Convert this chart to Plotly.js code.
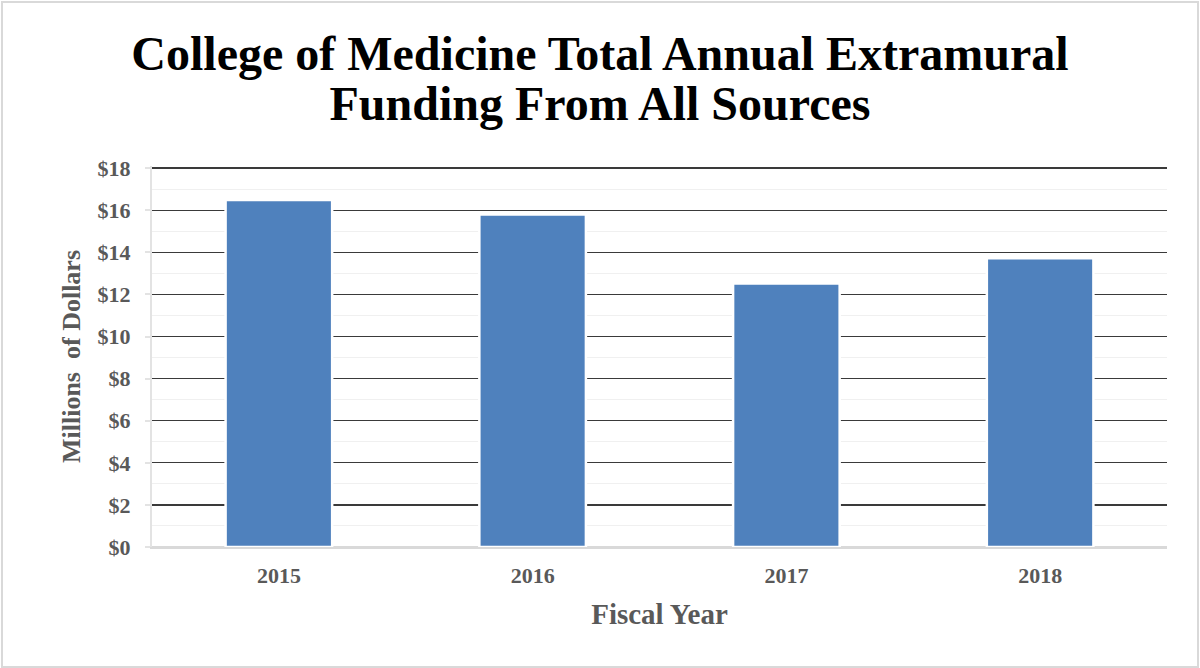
<!DOCTYPE html>
<html>
<head>
<meta charset="utf-8">
<script src="https://cdn.plot.ly/plotly-3.0.1.min.js"></script>
<style>
  html, body { margin: 0; padding: 0; background: #ffffff; }
  #chart { width: 1200px; height: 668px; position: absolute; left: 0; top: 0; }
  #frame { position: absolute; left: 1px; top: 1px; width: 1194px; height: 663px;
           border: 2px solid #d9d9d9; pointer-events: none; }
</style>
</head>
<body>
<div id="chart"></div>
<div id="frame"></div>
<script>
// Data
const fiscalYears = ["2015", "2016", "2017", "2018"];
const fundingMillions = [16.48, 15.8, 12.52, 13.72];
const yTickValues = [0, 2, 4, 6, 8, 10, 12, 14, 16, 18];
const yTickLabels = ["$0", "$2", "$4", "$6", "$8", "$10", "$12", "$14", "$16", "$18"];

const titleLines = ["College of Medicine Total Annual Extramural", "Funding From All Sources"];
const xTitle = "Fiscal Year";
const yTitle = "Millions\u00a0 of Dollars";

const serif = "Liberation Serif";
const grayText = "#595959";

const chartTitle = titleLines.map(t => '<span style="font-size:48px">' + t + '</span>').join("<br>");

const trace = {
  type: "bar",
  x: fiscalYears,
  y: fundingMillions,
  marker: { color: "#4f81bd", line: { color: "#ffffff", width: 2.5 } },
  hoverinfo: "x+y"
};

const layout = {
  width: 1200,
  height: 668,
  paper_bgcolor: "#ffffff",
  plot_bgcolor: "#ffffff",
  margin: { l: 152, r: 33, t: 166, b: 121 },
  bargap: 0.58,
  showlegend: false,
  title: {
    text: chartTitle,
    font: { family: serif, size: 38, color: "#000000", weight: "bold" },
    x: 0.5, xref: "container", xanchor: "center",
    y: 0.895, yref: "container", yanchor: "middle"
  },
  xaxis: {
    type: "category",
    showgrid: false,
    showline: true,
    linecolor: "#d9d9d9",
    linewidth: 1.5,
    ticks: "",
    ticklabelstandoff: 8,
    tickfont: { family: serif, size: 22, color: grayText, weight: "bold" },
    title: { text: xTitle, standoff: 17,
             font: { family: serif, size: 29, color: grayText, weight: "bold" } }
  },
  yaxis: {
    range: [0, 18.1],
    tickmode: "array",
    tickvals: yTickValues,
    ticktext: yTickLabels,
    showgrid: true,
    gridcolor: "#3a3a3a",
    gridwidth: 1.3,
    zeroline: true,
    zerolinecolor: "#d9d9d9",
    zerolinewidth: 1.5,
    showline: true,
    linecolor: "#e3e3e3",
    linewidth: 2,
    ticks: "outside",
    ticklen: 5,
    tickcolor: "#e3e3e3",
    tickwidth: 2,
    ticklabelstandoff: 10,
    tickfont: { family: serif, size: 22, color: grayText, weight: "bold" },
    minor: { dtick: 1, tick0: 0, showgrid: true, gridcolor: "#f0f0f0", gridwidth: 1, ticks: "" },
    title: { text: yTitle, standoff: 9,
             font: { family: serif, size: 26, color: grayText, weight: "bold" } }
  }
};

Plotly.newPlot("chart", [trace], layout, { displayModeBar: false, staticPlot: true });
</script>
</body>
</html>
